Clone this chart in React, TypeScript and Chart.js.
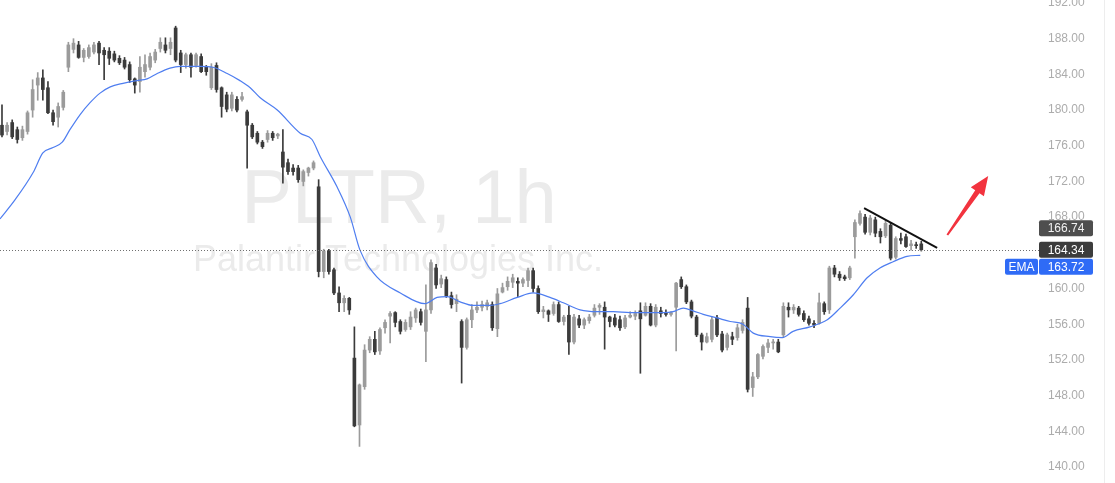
import React, { useEffect, useRef } from "react";
import { Chart, registerables } from "chart.js";

Chart.register(...registerables);

// [open, high, low, close] per 1h candle
const ohlc: [number, number, number, number][] = [
  [178.3, 180.6, 177.0, 177.2], [177.6, 178.6, 177.2, 178.3], [178.6, 178.9, 176.8, 177.0], [177.8, 178.1, 176.3, 176.7],
  [176.9, 178.2, 176.6, 177.8], [177.6, 179.9, 177.3, 179.7], [180.0, 183.4, 179.2, 182.3], [182.8, 184.2, 181.1, 183.6],
  [183.6, 184.5, 181.1, 182.3], [182.5, 183.2, 179.6, 179.7], [179.7, 180.0, 178.3, 178.7], [179.2, 180.8, 178.1, 180.4],
  [180.3, 182.2, 180.0, 182.0], [184.8, 187.6, 184.3, 187.3], [186.8, 188.0, 186.4, 187.5], [187.3, 187.7, 185.8, 185.9],
  [185.9, 186.9, 185.4, 186.7], [186.0, 187.3, 185.8, 187.0], [186.5, 187.6, 186.3, 187.3], [187.5, 187.7, 185.1, 186.4],
  [186.7, 187.0, 183.4, 186.2], [186.6, 187.0, 185.1, 185.8], [186.3, 186.6, 185.4, 185.6], [185.8, 186.1, 185.1, 185.3],
  [185.6, 185.9, 184.6, 184.8], [185.1, 185.4, 183.1, 183.4], [183.5, 183.6, 181.9, 182.8], [183.2, 186.0, 182.0, 184.8],
  [184.3, 186.2, 183.7, 185.1], [184.8, 186.4, 184.5, 186.0], [185.6, 186.8, 185.3, 186.5], [186.9, 188.1, 186.5, 187.6],
  [187.3, 188.1, 186.4, 186.7], [186.9, 188.1, 186.2, 187.6], [189.2, 189.4, 185.4, 185.6], [186.4, 186.7, 184.2, 185.1],
  [185.1, 186.4, 184.7, 186.2], [186.2, 186.4, 183.7, 184.8], [185.0, 186.4, 184.8, 186.2], [186.0, 186.3, 184.2, 184.3],
  [184.8, 185.0, 183.9, 184.3], [182.5, 185.2, 182.3, 184.8], [185.0, 185.3, 182.0, 182.3], [182.5, 182.6, 179.2, 180.4],
  [181.7, 182.0, 179.8, 180.1], [180.2, 182.0, 179.9, 181.7], [181.2, 181.5, 179.8, 180.0], [181.2, 182.0, 181.0, 181.5],
  [179.8, 180.0, 173.5, 178.3], [178.3, 178.5, 176.8, 177.0], [177.4, 177.6, 176.2, 176.4], [176.4, 176.6, 175.7, 175.9],
  [176.7, 177.7, 176.4, 177.4], [177.4, 177.6, 176.6, 176.9], [177.1, 177.4, 176.8, 177.3], [175.3, 177.8, 171.8, 173.6],
  [174.1, 174.5, 172.8, 173.1], [173.5, 173.9, 172.7, 173.1], [173.5, 173.8, 171.9, 172.2], [172.0, 173.3, 171.5, 173.1],
  [173.0, 173.6, 172.6, 173.5], [173.5, 174.3, 173.3, 174.1], [171.4, 172.2, 161.3, 161.9], [161.9, 164.4, 161.2, 164.2],
  [164.2, 164.4, 161.6, 161.9], [162.1, 162.3, 159.3, 159.5], [159.5, 160.2, 157.4, 158.4], [158.4, 159.2, 157.4, 158.9],
  [158.9, 159.0, 157.1, 157.6], [152.2, 155.7, 144.5, 144.6], [144.7, 149.3, 142.3, 149.2], [149.0, 153.7, 148.7, 153.1],
  [153.1, 154.6, 152.8, 154.3], [154.3, 155.2, 152.6, 152.9], [153.0, 155.6, 152.6, 155.4], [155.6, 156.5, 155.0, 156.2],
  [156.9, 157.4, 153.9, 157.2], [157.3, 157.4, 155.7, 156.2], [156.3, 156.5, 154.9, 155.2], [155.4, 156.5, 155.2, 156.2],
  [155.7, 157.4, 155.4, 156.8], [156.7, 157.8, 156.2, 157.6], [157.4, 157.7, 155.9, 156.2], [155.2, 160.4, 151.8, 157.6],
  [157.6, 163.2, 157.2, 162.9], [162.3, 162.7, 160.0, 160.4], [160.5, 161.5, 160.1, 161.1], [161.0, 161.3, 159.0, 159.2],
  [159.2, 159.6, 157.8, 158.2], [158.3, 159.3, 157.4, 158.8], [156.3, 156.5, 149.4, 153.4], [153.4, 156.7, 153.2, 156.5],
  [156.5, 158.2, 155.6, 157.6], [157.6, 158.5, 157.3, 157.9], [157.9, 158.6, 157.5, 158.2], [158.0, 158.7, 157.6, 158.4],
  [158.2, 158.5, 155.3, 155.6], [155.5, 160.0, 154.6, 159.4], [159.6, 160.6, 159.5, 160.1], [160.2, 161.3, 159.8, 160.8],
  [160.7, 161.6, 160.1, 161.2], [160.8, 161.2, 159.1, 160.6], [160.6, 161.2, 160.2, 161.0], [160.9, 162.3, 160.2, 162.0],
  [162.0, 162.3, 159.6, 160.0], [160.0, 160.3, 157.2, 157.4], [157.4, 158.0, 156.7, 157.6], [157.5, 157.6, 156.3, 157.1],
  [157.2, 158.5, 157.0, 158.2], [158.2, 158.5, 156.2, 156.3], [156.3, 157.0, 155.9, 156.8], [157.0, 158.0, 152.6, 154.0],
  [154.0, 157.1, 153.8, 156.8], [156.6, 157.0, 155.6, 155.9], [155.9, 156.7, 155.5, 156.5], [156.4, 157.1, 156.1, 156.8],
  [157.0, 158.2, 156.8, 157.8], [157.9, 158.3, 157.1, 158.1], [157.9, 158.5, 153.2, 156.8], [156.8, 156.9, 155.7, 156.3],
  [156.7, 157.1, 155.7, 155.9], [156.5, 156.9, 155.3, 155.6], [155.7, 157.0, 155.5, 156.7], [156.8, 157.4, 156.7, 157.0],
  [156.9, 157.5, 156.5, 157.2], [157.5, 158.4, 150.5, 156.6], [157.0, 158.4, 156.9, 158.0], [158.0, 158.3, 155.8, 155.9],
  [155.9, 158.2, 155.7, 157.9], [157.5, 157.9, 156.8, 157.2], [157.2, 157.6, 156.9, 157.1], [157.1, 157.4, 156.9, 157.3],
  [157.9, 160.7, 153.0, 160.6], [161.0, 161.3, 160.0, 160.2], [160.2, 160.4, 158.3, 158.5], [158.5, 158.7, 156.7, 156.9],
  [156.8, 157.0, 154.6, 154.8], [154.8, 155.0, 153.1, 154.0], [154.0, 155.0, 153.9, 154.6], [154.3, 156.8, 154.0, 156.5],
  [156.7, 157.0, 154.6, 154.8], [154.9, 155.2, 152.9, 153.1], [153.4, 155.0, 153.1, 154.8], [154.6, 155.1, 153.7, 154.3],
  [154.5, 156.0, 154.2, 155.6], [155.3, 156.5, 155.0, 156.2], [157.8, 159.0, 148.4, 148.7], [148.9, 150.6, 147.9, 150.1],
  [150.1, 152.7, 149.9, 152.6], [152.4, 153.7, 152.1, 153.5], [153.4, 154.3, 152.8, 153.9], [153.9, 154.3, 153.2, 154.0],
  [154.0, 154.3, 152.8, 152.9], [154.8, 158.4, 154.6, 158.0], [157.9, 158.4, 156.8, 157.6], [157.6, 158.2, 157.2, 157.9],
  [157.8, 158.0, 156.9, 157.1], [157.2, 157.5, 156.3, 156.5], [156.6, 156.9, 155.9, 156.1], [156.1, 156.4, 155.6, 155.9],
  [156.1, 159.5, 156.0, 158.4], [158.3, 158.5, 157.1, 157.4], [157.6, 162.5, 157.2, 162.3], [162.3, 162.6, 161.3, 161.6],
  [161.6, 161.9, 160.9, 161.2], [161.3, 161.5, 160.9, 161.1], [161.2, 162.5, 161.0, 162.3], [165.8, 167.7, 163.4, 167.4],
  [167.3, 168.7, 167.1, 168.4], [168.0, 168.3, 166.1, 166.3], [166.3, 168.2, 166.0, 167.9], [167.7, 168.0, 165.8, 166.2],
  [166.4, 166.7, 165.1, 165.8], [165.9, 167.6, 165.7, 167.3], [167.1, 167.4, 163.2, 163.4], [163.5, 165.8, 163.3, 165.6],
  [165.6, 166.2, 165.0, 165.4], [165.8, 166.1, 164.6, 164.7], [164.8, 165.4, 164.3, 165.0], [164.9, 165.2, 164.5, 164.8],
  [165.0, 165.3, 164.2, 164.34],
];

// EMA (bar index, price)
const emaIndex = [-0.4, 2.5, 6.1, 8.0, 10.0, 11.8, 13.3, 15.3, 17.2, 19.2, 21.2, 23.7, 26.4, 28.4, 30.4, 32.9, 34.9, 38.8, 41.3, 44.1, 46.6, 48.6, 50.5, 53.9, 58.4, 60.7, 62.3, 65.6, 68.2, 70.1, 73.4, 78.0, 82.8, 85.2, 87.2, 89.7, 92.2, 95.6, 97.5, 100.9, 104.0, 107.3, 109.9, 113.2, 116.5, 119.7, 123.0, 126.3, 129.5, 131.4, 133.4, 135.3, 137.3, 140.0, 142.6, 145.1, 147.1, 150.4, 152.8, 154.9, 158.2, 161.6, 164.1, 166.7, 169.4, 171.9, 174.5, 177.2, 179.8];
const emaValues = [167.8, 169.9, 173.0, 175.2, 175.8, 176.4, 177.8, 179.5, 180.8, 181.9, 182.6, 183.0, 183.3, 183.5, 184.1, 184.7, 184.9, 184.9, 184.8, 184.1, 183.3, 182.5, 181.4, 180.0, 177.4, 176.7, 174.8, 171.4, 168.0, 164.3, 161.3, 159.5, 158.3, 159.0, 159.1, 158.5, 158.1, 158.1, 158.3, 159.0, 159.5, 159.0, 158.4, 157.6, 157.4, 157.4, 157.3, 157.3, 157.3, 157.4, 157.8, 157.5, 157.1, 156.7, 156.3, 156.0, 155.0, 154.6, 154.5, 155.2, 155.7, 156.5, 157.8, 159.3, 161.2, 162.3, 163.0, 163.6, 163.72];

const priceTicks = [140, 144, 148, 152, 156, 160, 164, 168, 172, 176, 180, 184, 188, 192];
const lastPrice = 164.34;
const markPrice = 166.74;
const emaLast = 163.72;

const trendIndex = [168.8, 183.1];
const trendValues = [169.0, 164.56];
const arrowIndex = [185.1, 193.1];
const arrowValues = [166.0, 172.6];

const titleText = "PLTR, 1h";
const subtitleText = "Palantir Technologies Inc.";

const UP = "#9b9b9b";
const DOWN = "#3b3b3b";
const FONT = "'Liberation Sans', Arial, Helvetica, sans-serif";

export default function App() {
  const ref = useRef<HTMLCanvasElement>(null);

  useEffect(() => {
    document.body.style.margin = "0";
    const canvas = ref.current!;
    const bodyData = ohlc.map((c, i) => ({ x: i, y: [Math.min(c[0], c[3]), Math.max(c[0], c[3])] }));
    const wickData = ohlc.map((c, i) => ({ x: i, y: [c[2], c[1]] }));
    const colors = ohlc.map((c) => (c[3] >= c[0] ? UP : DOWN));

    const watermark = {
      id: "watermark",
      beforeDatasetsDraw(chart: any) {
        const ctx = chart.ctx;
        ctx.save();
        ctx.fillStyle = "#ebebeb";
        ctx.textAlign = "center";
        ctx.textBaseline = "alphabetic";
        ctx.font = `76px ${FONT}`;
        ctx.fillText(titleText, 399, 223);
        ctx.font = `36px ${FONT}`;
        ctx.fillText(subtitleText, 398, 271);
        ctx.restore();
      },
    };

    const overlay = {
      id: "overlay",
      afterDraw(chart: any) {
        const ctx = chart.ctx;
        const xs = chart.scales.x;
        const ys = chart.scales.y;
        ctx.save();
        // panel edge
        ctx.strokeStyle = "#ededed";
        ctx.lineWidth = 1;
        ctx.beginPath();
        ctx.moveTo(1104.5, 0);
        ctx.lineTo(1104.5, 483);
        ctx.stroke();

        // last price dotted line
        const yl = Math.round(ys.getPixelForValue(lastPrice)) + 0.5;
        ctx.strokeStyle = "#707070";
        ctx.setLineDash([1, 2]);
        ctx.beginPath();
        ctx.moveTo(0, yl);
        ctx.lineTo(1039, yl);
        ctx.stroke();
        ctx.setLineDash([]);

        // red arrow
        const sx = xs.getPixelForValue(arrowIndex[0]);
        const sy = ys.getPixelForValue(arrowValues[0]);
        const ex = xs.getPixelForValue(arrowIndex[1]);
        const ey = ys.getPixelForValue(arrowValues[1]);
        const ang = Math.atan2(ey - sy, ex - sx);
        const len = Math.hypot(ex - sx, ey - sy);
        const headLen = 19;
        const headW = 8;
        ctx.translate(sx, sy);
        ctx.rotate(ang);
        ctx.fillStyle = "#f2333e";
        ctx.beginPath();
        ctx.moveTo(0, -1);
        ctx.lineTo(len - headLen, -2.6);
        ctx.lineTo(len - headLen, -headW);
        ctx.lineTo(len, 0);
        ctx.lineTo(len - headLen, headW);
        ctx.lineTo(len - headLen, 2.6);
        ctx.lineTo(0, 1);
        ctx.closePath();
        ctx.fill();
        ctx.setTransform(1, 0, 0, 1, 0, 0);

        // price labels
        const box = (x: number, yc: number, w: number, bg: string, text: string, fg: string) => {
          const h = 16;
          ctx.fillStyle = bg;
          ctx.beginPath();
          (ctx as any).roundRect(x, yc - h / 2, w, h, 2);
          ctx.fill();
          ctx.fillStyle = fg;
          ctx.font = `12px ${FONT}`;
          ctx.textAlign = "center";
          ctx.textBaseline = "middle";
          ctx.fillText(text, x + w / 2, yc + 0.5);
        };
        const yMark = ys.getPixelForValue(markPrice);
        const yLast = ys.getPixelForValue(lastPrice);
        let yEma = ys.getPixelForValue(emaLast);
        if (yEma < yLast + 17) yEma = yLast + 17;
        box(1039, yMark, 54, "#4e4e4e", markPrice.toFixed(2), "#f2f2f2");
        box(1039, yLast, 54, "#3c3c3c", lastPrice.toFixed(2), "#ffffff");
        box(1005, yEma, 33, "#2f6bf6", "EMA", "#ffffff");
        box(1039, yEma, 54, "#2f6bf6", emaLast.toFixed(2), "#ffffff");
        ctx.restore();
      },
    };

    const chart = new Chart(canvas, {
      type: "bar",
      data: {
        datasets: [
          {
            type: "line",
            data: emaIndex.map((x, i) => ({ x, y: emaValues[i] })),
            borderColor: "#4f7ef0",
            borderWidth: 1.2,
            pointRadius: 0,
            cubicInterpolationMode: "monotone",
            order: 0,
          } as any,
          {
            type: "line",
            data: trendIndex.map((x, i) => ({ x, y: trendValues[i] })),
            borderColor: "#111111",
            borderWidth: 2,
            pointRadius: 0,
            order: 0,
          } as any,
          {
            type: "bar",
            data: bodyData,
            backgroundColor: colors,
            barThickness: 3,
            grouped: false,
            minBarLength: 1,
            order: 1,
          } as any,
          {
            type: "bar",
            data: wickData,
            backgroundColor: colors,
            barThickness: 1,
            grouped: false,
            order: 2,
          } as any,
        ],
      },
      options: {
        animation: false,
        responsive: false,
        events: [],
        layout: { padding: 0 },
        plugins: { legend: { display: false }, tooltip: { enabled: false } },
        scales: {
          x: {
            type: "linear",
            min: -0.39,
            max: 196.0,
            offset: false,
            display: false,
            grid: { display: false },
          },
          y: {
            type: "linear",
            position: "right",
            min: 138.2,
            max: 192.336,
            grid: { display: false, drawTicks: false },
            border: { display: false },
            ticks: {
              autoSkip: false,
              padding: 45,
              color: "#acacac",
              font: { family: FONT, size: 12 },
              callback: (v: any) => Number(v).toFixed(2),
            },
            afterBuildTicks: (s: any) => {
              s.ticks = priceTicks.map((value) => ({ value }));
            },
            afterFit: (s: any) => {
              s.width = 112;
              s.paddingTop = 0;
              s.paddingBottom = 0;
            },
          },
        },
      } as any,
      plugins: [watermark, overlay],
    });
    return () => chart.destroy();
  }, []);

  return (
    <div style={{ width: 1115, height: 483, background: "#ffffff" }}>
      <canvas ref={ref} width={1115} height={483} style={{ display: "block" }} />
    </div>
  );
}
